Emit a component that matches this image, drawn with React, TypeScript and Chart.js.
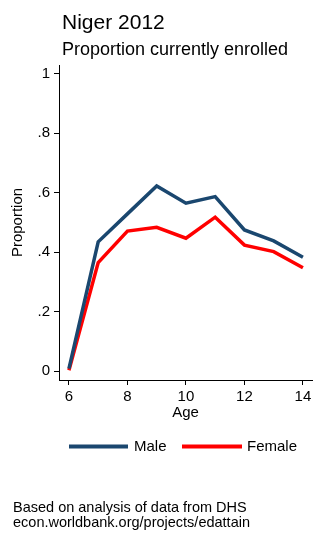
import React, { useEffect, useRef } from "react";
import { Chart, registerables } from "chart.js";

Chart.register(...registerables);

const ages = [6, 7, 8, 9, 10, 11, 12, 13, 14];
const male = [0.008, 0.435, 0.529, 0.623, 0.565, 0.587, 0.475, 0.438, 0.383];
const female = [0.003, 0.365, 0.471, 0.484, 0.447, 0.518, 0.424, 0.402, 0.348];
const xTicks = [6, 8, 10, 12, 14];
const yTicks = [0, 0.2, 0.4, 0.6, 0.8, 1];
const yTickLabels = ["0", ".2", ".4", ".6", ".8", "1"];
const seriesNames = ["Male", "Female"];
const seriesColors = ["#1a476f", "#ff0000"];
const titleText = "Niger 2012";
const subtitleText = "Proportion currently enrolled";
const xTitle = "Age";
const yTitle = "Proportion";
const noteLines = ["Based on analysis of data from DHS", "econ.worldbank.org/projects/edattain"];

const FONT = "'Liberation Sans', Arial, sans-serif";

const textPlugin = {
  id: "textPlugin",
  afterDraw(chart: any) {
    const ctx = chart.ctx;
    ctx.save();
    ctx.fillStyle = "#000";
    ctx.textAlign = "left";
    ctx.textBaseline = "alphabetic";
    ctx.font = `21px ${FONT}`;
    ctx.fillText(titleText, 62, 29);
    ctx.font = `18px ${FONT}`;
    ctx.fillText(subtitleText, 62, 55);

    // legend
    const items = [
      { x0: 69, x1: 128, tx: 134 },
      { x0: 182, x1: 242, tx: 247 },
    ];
    const ly = 446.5;
    chart.data.datasets.forEach((ds: any, i: number) => {
      const it = items[i];
      ctx.strokeStyle = ds.borderColor;
      ctx.lineWidth = 4;
      ctx.lineCap = "butt";
      ctx.beginPath();
      ctx.moveTo(it.x0, ly);
      ctx.lineTo(it.x1, ly);
      ctx.stroke();
      ctx.fillStyle = "#000";
      ctx.font = `15px ${FONT}`;
      ctx.textBaseline = "middle";
      ctx.fillText(ds.label, it.tx, ly);
    });

    ctx.textBaseline = "alphabetic";
    ctx.font = `14.5px ${FONT}`;
    ctx.fillText(noteLines[0], 13, 512);
    ctx.fillText(noteLines[1], 13, 526.5);
    ctx.restore();
  },
};

export default function App() {
  const ref = useRef<HTMLCanvasElement>(null);
  useEffect(() => {
    if (!ref.current) return;
    const chart = new Chart(ref.current, {
      type: "line",
      data: {
        datasets: [
          {
            label: seriesNames[0],
            data: ages.map((a, i) => ({ x: a, y: male[i] })),
            borderColor: seriesColors[0],
            backgroundColor: seriesColors[0],
            borderWidth: 3.5,
            pointRadius: 0,
            tension: 0,
          },
          {
            label: seriesNames[1],
            data: ages.map((a, i) => ({ x: a, y: female[i] })),
            borderColor: seriesColors[1],
            backgroundColor: seriesColors[1],
            borderWidth: 3.5,
            pointRadius: 0,
            tension: 0,
          },
        ],
      },
      options: {
        animation: false,
        responsive: false,
        devicePixelRatio: 1,
        layout: { padding: { top: 65, right: 14, bottom: 121, left: 0 } },
        plugins: {
          legend: { display: false },
          title: { display: false },
          tooltip: { enabled: false },
        },
        scales: {
          x: {
            type: "linear",
            min: 5.66,
            max: 14.31,
            afterBuildTicks: (s: any) => {
              s.ticks = xTicks.map((v) => ({ value: v }));
            },
            afterFit: (s: any) => {
              s.height = 45;
            },
            grid: { drawOnChartArea: false, drawTicks: true, tickLength: 5, color: "#000", lineWidth: 1 },
            border: { display: true, color: "#000", width: 1 },
            ticks: {
              color: "#000",
              font: { family: FONT, size: 15 },
              padding: 3,
              maxRotation: 0,
              callback: (v: any) => String(v),
            },
            title: {
              display: true,
              text: xTitle,
              color: "#000",
              font: { family: FONT, size: 15 },
              padding: { top: 0, bottom: 3 },
            },
          },
          y: {
            type: "linear",
            min: -0.03,
            max: 1.03,
            afterBuildTicks: (s: any) => {
              s.ticks = yTicks.map((v) => ({ value: v }));
            },
            afterFit: (s: any) => {
              s.width = 59;
            },
            grid: { drawOnChartArea: false, drawTicks: true, tickLength: 5, color: "#000", lineWidth: 1 },
            border: { display: true, color: "#000", width: 1 },
            ticks: {
              color: "#000",
              font: { family: FONT, size: 15 },
              padding: 4,
              callback: (v: any) => {
                const idx = yTicks.findIndex((t) => Math.abs(t - v) < 1e-9);
                return idx >= 0 ? yTickLabels[idx] : "";
              },
            },
            title: {
              display: true,
              text: yTitle,
              color: "#000",
              font: { family: FONT, size: 15 },
              padding: { top: 9, bottom: 0 },
            },
          },
        },
      },
      plugins: [textPlugin],
    });
    return () => chart.destroy();
  }, []);
  return (
    <div style={{ position: "absolute", left: 0, top: 0, width: 326, height: 546, background: "#fff" }}>
      <canvas ref={ref} width={326} height={546} style={{ width: 326, height: 546, display: "block" }} />
    </div>
  );
}
